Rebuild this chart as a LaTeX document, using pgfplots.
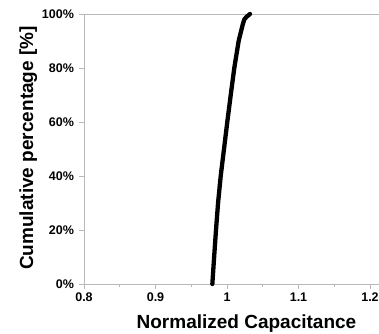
\documentclass[border=0pt]{standalone}
\usepackage{pgfplots}
\pgfplotsset{compat=1.18}
\usepackage{fontspec}
\setmainfont{Liberation Sans}
\begin{document}
\begin{tikzpicture}
\begin{axis}[
  scale only axis,
  width=321.75pt, height=270pt,
  xmin=0.8, xmax=1.25, ymin=0, ymax=100,
  axis x line*=bottom, axis y line*=left,
  axis line style={draw=gray!55, line width=0.8pt},
  xtick={0.8,0.9,1,1.1,1.2},
  minor xtick={0.85,0.95,1.05,1.15},
  ytick={0,20,40,60,80,100},
  tick style={draw=gray!55, line width=0.8pt},
  tick align=outside,
  major tick length=5pt, minor tick length=3pt,
  /pgf/number format/assume math mode=true,
  every tick label/.append style={font=\bfseries\fontsize{12.5}{14}\selectfont},
  xticklabel={\pgfmathprintnumber{\tick}},
  yticklabel={\pgfmathprintnumber{\tick}\%},
  yticklabel style={xshift=-1.5pt},
  xlabel={Normalized Capacitance},
  ylabel={Cumulative percentage [\%]},
  label style={font=\fontsize{19}{22}\selectfont\bfseries},
  xlabel style={at={(axis description cs:0.505,-0.163)}, anchor=base},
  ylabel style={at={(axis description cs:-0.1585,0.504)}, anchor=base},
  clip=false,
]
\draw[gray!55, line width=0.8pt] (axis cs:0.8,100) -- (axis cs:1.25,100);
\addplot[black, line width=4.3pt, line join=round, line cap=round] coordinates {
(0.9795,0) (0.9820,10) (0.9846,20) (0.9875,30) (0.9912,40) (0.9958,50)
(1.0004,60) (1.0052,70) (1.0102,80) (1.0163,90) (1.0219,96) (1.0242,98)
(1.0275,99) (1.0322,100)
};
\coordinate (o) at (axis cs:0.8,0);
\end{axis}
\pgfresetboundingbox
\path[use as bounding box] ([xshift=-84pt,yshift=-49pt]o) rectangle ([xshift=295pt,yshift=284pt]o);
\end{tikzpicture}
\end{document}
